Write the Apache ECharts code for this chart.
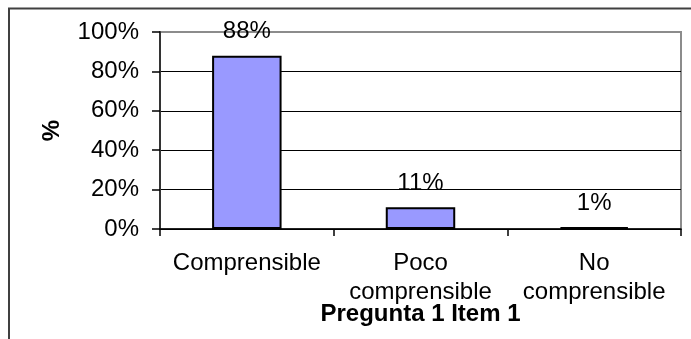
<!DOCTYPE html>
<html>
<head>
<meta charset="utf-8">
<script src="https://cdn.jsdelivr.net/npm/echarts@6/dist/echarts.min.js"></script>
<style>
  html, body { margin: 0; padding: 0; background: #fff; }
  #chart { width: 691px; height: 339px; }
</style>
</head>
<body>
<div id="chart"></div>
<script>
// Survey answers for question 1, item 1 (percent of respondents)
var categories = ['Comprensible', 'Poco\ncomprensible', 'No\ncomprensible'];
var percentages = [88, 11, 1];
var yTicks = [0, 20, 40, 60, 80, 100];

var FONT = '"Liberation Sans", Arial, sans-serif';
var FS = 24;

var chart = echarts.init(document.getElementById('chart'), null, { renderer: 'canvas' });

chart.setOption({
  animation: false,
  backgroundColor: '#ffffff',
  textStyle: { fontFamily: FONT },
  graphic: [{
    // outer chart frame (runs past the right and bottom edges)
    type: 'rect',
    silent: true,
    z: 100,
    shape: { x: 9, y: 8.5, width: 900, height: 600 },
    style: { fill: 'none', stroke: '#404040', lineWidth: 2 }
  }],
  grid: {
    left: 160, right: 10, top: 32, bottom: 110,
    outerBoundsMode: 'none',
    containLabel: false,
    show: true,
    backgroundColor: 'transparent',
    borderColor: '#8c8c8c',
    borderWidth: 2
  },
  xAxis: {
    type: 'category',
    data: categories,
    name: 'Pregunta 1 Item 1',
    nameLocation: 'middle',
    nameGap: 73,
    nameMoveOverlap: false,
    nameTextStyle: { fontFamily: FONT, fontSize: FS, fontWeight: 'bold', color: '#000' },
    axisLine: { show: true, lineStyle: { color: '#000', width: 1.5 } },
    axisTick: { show: true, alignWithLabel: false, length: 7, lineStyle: { color: '#000', width: 1.5 } },
    axisLabel: {
      fontFamily: FONT, fontSize: FS, color: '#000',
      margin: 20, lineHeight: 29, interval: 0
    },
    splitLine: { show: false }
  },
  yAxis: {
    type: 'value',
    min: yTicks[0],
    max: yTicks[yTicks.length - 1],
    interval: yTicks[1] - yTicks[0],
    name: '%',
    nameLocation: 'middle',
    nameGap: 96,
    nameRotate: 90,
    nameMoveOverlap: false,
    nameTextStyle: { fontFamily: FONT, fontSize: FS, fontWeight: 'bold', color: '#000' },
    axisLine: { show: true, lineStyle: { color: '#333', width: 2 } },
    axisTick: { show: true, length: 8, lineStyle: { color: '#000', width: 1.5 } },
    axisLabel: {
      fontFamily: FONT, fontSize: FS, color: '#000', margin: 21,
      formatter: '{value}%'
    },
    splitLine: {
      show: true,
      lineStyle: { color: ['#000', '#000', '#000', '#000', '#000', '#8c8c8c'], width: 1.2 }
    }
  },
  series: [{
    type: 'bar',
    data: percentages,
    barWidth: '40%',
    itemStyle: { color: '#9999ff', borderColor: '#000', borderWidth: 2 },
    label: {
      show: true,
      position: 'top',
      distance: 12,
      fontFamily: FONT,
      fontSize: FS,
      color: '#000',
      formatter: '{c}%'
    }
  }]
});
</script>
</body>
</html>
